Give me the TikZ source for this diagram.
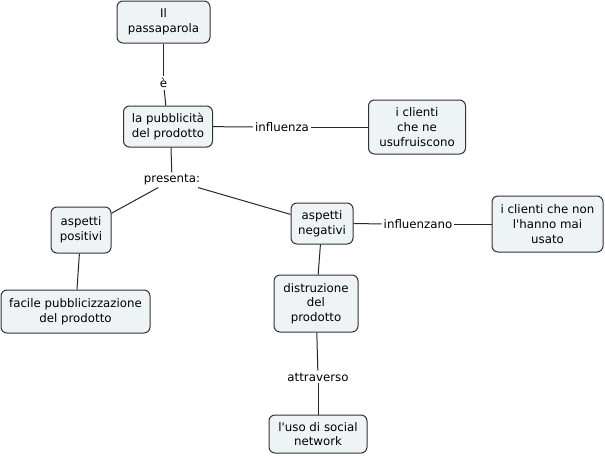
\documentclass[tikz,border=0pt]{standalone}
\usepackage{fontspec}
\setmainfont{DejaVu Sans}[Ligatures=TeXOff]
\definecolor{boxfill}{HTML}{EEF3F5}
\definecolor{boxline}{HTML}{333333}
\begin{document}
\begin{tikzpicture}[x=1pt,y=-1pt,
  concept/.style={draw=boxline, line width=1pt, fill=boxfill, rounded corners=6pt,
    align=center, inner sep=0pt, font=\fontsize{11.8}{14.7}\selectfont},
  linklabel/.style={inner sep=2pt, font=\fontsize{11.8}{14.7}\selectfont},
  conn/.style={draw=black!85, line width=1pt}]
\useasboundingbox (0,0) rectangle (605,456);
\node[concept, minimum width=93pt, minimum height=42pt] (pass) at (163.5,22) {Il\\passaparola};
\node[concept, minimum width=89pt, minimum height=41pt] (pub) at (168,126.5) {la pubblicità\\del prodotto};
\node[concept, minimum width=97pt, minimum height=54pt] (cli) at (417,127) {i clienti\\che ne\\usufruiscono};
\node[concept, minimum width=60pt, minimum height=46pt] (pos) at (81,230) {aspetti\\positivi};
\node[concept, minimum width=149pt, minimum height=43pt] (fac) at (75.5,311.5) {facile pubblicizzazione\\del prodotto};
\node[concept, minimum width=62pt, minimum height=41pt] (neg) at (322,223.5) {aspetti\\negativi};
\node[concept, minimum width=111pt, minimum height=56pt] (non) at (547.5,224) {i clienti che non\\l'hanno mai\\usato};
\node[concept, minimum width=84pt, minimum height=57pt] (dis) at (316,303.5) {distruzione\\del\\prodotto};
\node[concept, minimum width=98pt, minimum height=38pt] (soc) at (318,434) {l'uso di social\\network};
\node[linklabel] (e) at (163.5,83) {è};
\node[linklabel] (infl) at (282,127) {influenza};
\node[linklabel] (pres) at (172,180) {presenta:};
\node[linklabel] (inflz) at (418,224) {influenzano};
\node[linklabel] (attr) at (318,377) {attraverso};
\draw[conn] (pass) -- (e);
\draw[conn] (e) -- (pub);
\draw[conn] (pub) -- (infl);
\draw[conn] (infl) -- (cli);
\draw[conn] (pub.south -| 171,0) -- (pres);
\draw[conn] (pres) -- (pos);
\draw[conn] (pres) -- (neg);
\draw[conn] (pos) -- (fac);
\draw[conn] (neg) -- (inflz);
\draw[conn] (inflz) -- (non);
\draw[conn] (neg) -- (dis);
\draw[conn] (dis) -- (attr);
\draw[conn] (attr) -- (soc);
\end{tikzpicture}
\end{document}
